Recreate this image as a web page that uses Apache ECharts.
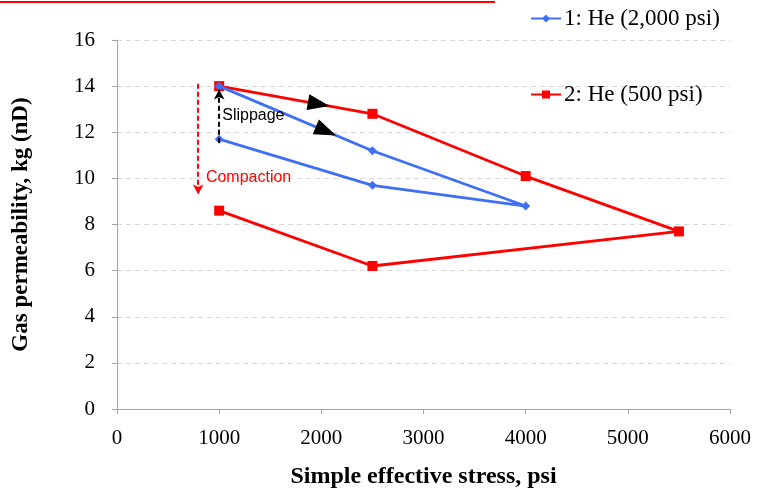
<!DOCTYPE html>
<html><head><meta charset="utf-8">
<script src="https://cdn.jsdelivr.net/npm/echarts@6/dist/echarts.min.js"></script>
<style>html,body{margin:0;padding:0;background:#fff}#c{width:758px;height:491px}</style>
</head><body><div id="c"></div>
<script>
const seriesNames = ['1: He (2,000 psi)', '2: He (500 psi)'];
const heliumHighStress = [1000, 2500, 4000, 2500, 1000];
const heliumHighPerm = [14, 11.2, 8.8, 9.7, 11.7];
const heliumLowStress = [1000, 2500, 4000, 5500, 2500, 1000];
const heliumLowPerm = [14, 12.8, 10.1, 7.7, 6.2, 8.6];
const yTicks = [0, 2, 4, 6, 8, 10, 12, 14, 16];
const xTicks = [0, 1000, 2000, 3000, 4000, 5000, 6000];

const font = '"Liberation Serif", "Times New Roman", serif';
const sans = 'Arial, "Liberation Sans", sans-serif';
const pair = (xs, ys) => xs.map((x, i) => [x, ys[i]]);

const chart = echarts.init(document.getElementById('c'));
chart.setOption({
  animation: false,
  backgroundColor: '#fff',
  grid: {left: 117, right: 28, top: 40, bottom: 82, containLabel: false, outerBoundsMode: 'none'},
  graphic: [
    {type: 'line', shape: {x1: 0, y1: 2, x2: 495, y2: 2}, style: {stroke: '#ff0000', lineWidth: 2}}
  ],
  legend: [
    {data: [seriesNames[0]], left: 530, top: 7, padding: 0, itemWidth: 30, itemHeight: 10,
     textStyle: {fontFamily: font, fontSize: 23, color: '#000', padding: [0, 0, 0, -2]}},
    {data: [seriesNames[1]], left: 530, top: 83, padding: 0, itemWidth: 30, itemHeight: 10,
     textStyle: {fontFamily: font, fontSize: 23, color: '#000', padding: [0, 0, 0, -2]}}
  ],
  xAxis: {
    type: 'value', min: 0, max: 6000, interval: 1000,
    name: 'Simple effective stress, psi', nameLocation: 'middle', nameGap: 56,
    nameTextStyle: {fontFamily: font, fontSize: 24, fontWeight: 'bold', color: '#000'},
    axisLine: {show: true, lineStyle: {color: '#a6a6a6', width: 1}},
    axisTick: {show: true, length: 5, lineStyle: {color: '#a6a6a6'}},
    axisLabel: {fontFamily: font, fontSize: 21, color: '#000', margin: 19,
      formatter: v => xTicks.includes(v) ? String(v) : ''},
    splitLine: {show: false}
  },
  yAxis: {
    type: 'value', min: 0, max: 16, interval: 2,
    name: 'Gas permeability, kg (nD)', nameLocation: 'middle', nameGap: 84,
    nameTextStyle: {fontFamily: font, fontSize: 23, fontWeight: 'bold', color: '#000'},
    axisLine: {show: true, lineStyle: {color: '#a6a6a6', width: 1}},
    axisTick: {show: true, length: 5, lineStyle: {color: '#a6a6a6'}},
    axisLabel: {fontFamily: font, fontSize: 21, color: '#000', margin: 22,
      formatter: v => yTicks.includes(v) ? String(v) : ''},
    splitLine: {show: true, lineStyle: {color: '#d9d9d9', type: [5, 4], width: 1}}
  },
  series: [
    {
      name: seriesNames[0], type: 'line', data: pair(heliumHighStress, heliumHighPerm),
      color: '#3f6ff5', symbol: 'diamond', symbolSize: 9, showSymbol: true,
      lineStyle: {width: 2.8, color: '#3f6ff5'}, itemStyle: {color: '#3f6ff5'}, z: 3,
      markPoint: {
        silent: true,
        data: [
          {coord: [2045, 12.05], symbol: 'triangle', symbolSize: [16, 22], symbolRotate: -113,
           itemStyle: {color: '#000'}, label: {show: false}},
          {coord: [1030, 12.72], symbol: 'circle', symbolSize: 0,
           label: {show: true, formatter: 'Slippage', position: 'right', distance: 0,
             fontFamily: sans, fontSize: 16, color: '#000'}}
        ]
      },
      markLine: {
        silent: true, symbol: ['none', 'arrow'], symbolSize: [8, 10],
        lineStyle: {color: '#000', type: [5, 3], width: 2},
        label: {show: false},
        data: [[{coord: [1000, 11.55]}, {coord: [1000, 13.85]}]]
      }
    },
    {
      name: seriesNames[1], type: 'line', data: pair(heliumLowStress, heliumLowPerm),
      color: '#ff0000', symbol: 'rect', symbolSize: 10, showSymbol: true,
      lineStyle: {width: 2.8, color: '#ff0000'}, itemStyle: {color: '#ff0000'}, z: 2,
      markPoint: {
        silent: true,
        data: [
          {coord: [1975, 13.22], symbol: 'triangle', symbolSize: [16, 22], symbolRotate: -100,
           itemStyle: {color: '#000'}, label: {show: false}},
          {coord: [870, 10.05], symbol: 'circle', symbolSize: 0,
           label: {show: true, formatter: 'Compaction', position: 'right', distance: 0,
             fontFamily: sans, fontSize: 16, color: '#ff0000'}}
        ]
      },
      markLine: {
        silent: true, symbol: ['none', 'arrow'], symbolSize: [8, 10],
        lineStyle: {color: '#ff0000', type: [5, 3], width: 2},
        label: {show: false},
        data: [[{coord: [795, 14.1]}, {coord: [795, 9.3]}]]
      }
    }
  ]
});
</script></body></html>
